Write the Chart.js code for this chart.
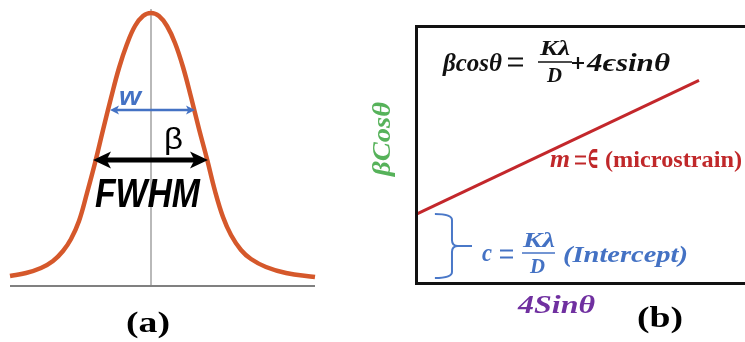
<!DOCTYPE html>
<html>
<head>
<meta charset="utf-8">
<script src="https://cdn.jsdelivr.net/npm/chart.js"></script>
<style>
    body { margin: 0; background: #fff; width: 745px; height: 342px; overflow: hidden; position: relative; }
    #peakChart { position: absolute; left: 0; top: 0; }
    #whChart { position: absolute; left: 330px; top: 0; }
</style>
</head>
<body>
<canvas id="peakChart" width="330" height="342"></canvas>
<canvas id="whChart" width="415" height="342"></canvas>
<script>
// (a) diffraction peak: offset from the peak centre vs. counts
const peakPos = [-141, -125, -110, -98, -88, -80, -72, -64, -56, -48, -40, -32, -24, -16, -8, 0,
    8, 16, 24, 32, 40, 48, 56, 64, 72, 80, 90, 100, 115, 135, 164]
const peakCounts = [9, 12, 17, 24, 34, 46, 64, 92, 122, 155, 187, 217, 241, 259, 269, 272,
    269, 259, 242, 218, 188, 156, 126, 94, 68, 50, 35, 26, 18, 12, 8]
const wSpan = [-41, 44]
const wLevel = 175
const fwhmSpan = [-58, 57]
const fwhmLevel = 125

// (b) Williamson-Hall line
const sinAxis = [0, 0.86]
const cosAxis = [0.27, 0.79]

const serifBI = (px) => `italic bold ${px}px "Liberation Serif", serif`
const serifB = (px) => `bold ${px}px "Liberation Serif", serif`
const sansBI = (px) => `italic bold ${px}px "Liberation Sans", sans-serif`

// draws text squeezed/stretched to a given width
function fitText(ctx, text, left, base, width, font, color) {
    ctx.save()
    ctx.font = font
    ctx.fillStyle = color
    ctx.textAlign = 'left'
    ctx.textBaseline = 'alphabetic'
    const w = ctx.measureText(text).width
    ctx.translate(left, base)
    ctx.scale(width / w, 1)
    ctx.fillText(text, 0, 0)
    ctx.restore()
}

// math-style bar glyphs (= and +) drawn as strokes so they stay heavy
function equals(ctx, x1, x2, mid, color) {
    ctx.save()
    ctx.strokeStyle = color
    ctx.lineWidth = 2.2
    ctx.beginPath()
    ctx.moveTo(x1, mid - 3.5)
    ctx.lineTo(x2, mid - 3.5)
    ctx.moveTo(x1, mid + 3.5)
    ctx.lineTo(x2, mid + 3.5)
    ctx.stroke()
    ctx.restore()
}

function plus(ctx, x1, x2, mid, color) {
    const c = (x1 + x2) / 2
    const h = (x2 - x1) / 2
    ctx.save()
    ctx.strokeStyle = color
    ctx.lineWidth = 2.2
    ctx.beginPath()
    ctx.moveTo(x1, mid)
    ctx.lineTo(x2, mid)
    ctx.moveTo(c, mid - h)
    ctx.lineTo(c, mid + h)
    ctx.stroke()
    ctx.restore()
}

function arrow(ctx, x1, x2, yy, color, lw, headLen, headHalf) {
    ctx.save()
    ctx.strokeStyle = color
    ctx.fillStyle = color
    ctx.lineWidth = lw
    ctx.beginPath()
    ctx.moveTo(x1 + headLen * 0.7, yy)
    ctx.lineTo(x2 - headLen * 0.7, yy)
    ctx.stroke()
    ctx.beginPath()
    ctx.moveTo(x1, yy)
    ctx.lineTo(x1 + headLen, yy - headHalf)
    ctx.lineTo(x1 + headLen * 0.75, yy)
    ctx.lineTo(x1 + headLen, yy + headHalf)
    ctx.closePath()
    ctx.fill()
    ctx.beginPath()
    ctx.moveTo(x2, yy)
    ctx.lineTo(x2 - headLen, yy - headHalf)
    ctx.lineTo(x2 - headLen * 0.75, yy)
    ctx.lineTo(x2 - headLen, yy + headHalf)
    ctx.closePath()
    ctx.fill()
    ctx.restore()
}

function fraction(ctx, num, den, numBox, denBox, bar, font, color) {
    fitText(ctx, num, numBox[0], numBox[2], numBox[1] - numBox[0], font, color)
    fitText(ctx, den, denBox[0], denBox[2], denBox[1] - denBox[0], font, color)
    ctx.save()
    ctx.strokeStyle = color
    ctx.lineWidth = 1.3
    ctx.beginPath()
    ctx.moveTo(bar[0], bar[2])
    ctx.lineTo(bar[1], bar[2])
    ctx.stroke()
    ctx.restore()
}

const peakMarks = {
    id: 'peakMarks',
    beforeDatasetsDraw(chart) {
        const { ctx, chartArea, scales: { x, y } } = chart
        const y0 = y.getPixelForValue(0)
        const xc = x.getPixelForValue(0)
        ctx.save()
        ctx.strokeStyle = '#808080'
        ctx.lineWidth = 2
        ctx.beginPath()
        ctx.moveTo(chartArea.left, y0 + 1)
        ctx.lineTo(chartArea.right, y0 + 1)
        ctx.stroke()
        ctx.strokeStyle = '#8a8a8a'
        ctx.lineWidth = 1.2
        ctx.beginPath()
        ctx.moveTo(xc, y0)
        ctx.lineTo(xc, y.getPixelForValue(276))
        ctx.stroke()
        ctx.restore()
    },
    afterDatasetsDraw(chart) {
        const { ctx, scales: { x, y } } = chart
        arrow(ctx, x.getPixelForValue(wSpan[0]), x.getPixelForValue(wSpan[1]), y.getPixelForValue(wLevel),
            '#4472c4', 2.5, 9, 4.5)
        arrow(ctx, x.getPixelForValue(fwhmSpan[0]), x.getPixelForValue(fwhmSpan[1]), y.getPixelForValue(fwhmLevel),
            '#000', 5, 18, 8.5)
        fitText(ctx, 'w', 119, 105, 22, sansBI(25), '#4472c4')
        fitText(ctx, 'β', 164, 149, 19, `29px "Liberation Sans", sans-serif`, '#000')
        fitText(ctx, 'FWHM', 95, 207, 105, sansBI(40), '#000')
        fitText(ctx, '(a)', 126, 332, 44, serifB(29), '#000')
    }
}

new Chart(document.getElementById('peakChart'), {
    type: 'line',
    data: {
        datasets: [{
            data: peakPos.map((p, i) => ({ x: p, y: peakCounts[i] })),
            borderColor: '#d5582b',
            borderWidth: 4.5,
            pointRadius: 0,
            tension: 0.4,
            fill: false,
            clip: false
        }]
    },
    options: {
        responsive: false,
        animation: false,
        events: [],
        layout: { padding: { left: 10, right: 15, top: 0, bottom: 57 } },
        plugins: { legend: { display: false }, tooltip: { enabled: false } },
        scales: {
            x: { type: 'linear', min: -141, max: 164, display: false },
            y: { min: 0, max: 285, display: false }
        }
    },
    plugins: [peakMarks]
})

const whMarks = {
    id: 'whMarks',
    afterDatasetsDraw(chart) {
        const { ctx, chartArea, scales: { x, y } } = chart
        ctx.save()

        // frame: left, top and bottom edges
        ctx.strokeStyle = '#111'
        ctx.lineWidth = 3
        ctx.beginPath()
        ctx.moveTo(chart.width + 5, chartArea.top)
        ctx.lineTo(chartArea.left, chartArea.top)
        ctx.lineTo(chartArea.left, chartArea.bottom)
        ctx.lineTo(chart.width + 5, chartArea.bottom)
        ctx.stroke()

        // brace marking the intercept
        const bx0 = x.getPixelForValue(0.056)
        const bxm = x.getPixelForValue(0.108)
        const bxt = x.getPixelForValue(0.169)
        const byTop = y.getPixelForValue(cosAxis[0])
        const byBot = y.getPixelForValue(0.021)
        const byTip = (byTop + byBot) / 2
        const r = 6
        ctx.strokeStyle = '#4a78c8'
        ctx.lineWidth = 2
        ctx.beginPath()
        ctx.moveTo(bx0, byTop)
        ctx.quadraticCurveTo(bxm, byTop, bxm, byTop + r)
        ctx.lineTo(bxm, byTip - r)
        ctx.quadraticCurveTo(bxm, byTip, bxm + r, byTip)
        ctx.lineTo(bxt, byTip)
        ctx.moveTo(bxm + r, byTip)
        ctx.quadraticCurveTo(bxm, byTip, bxm, byTip + r)
        ctx.lineTo(bxm, byBot - r)
        ctx.quadraticCurveTo(bxm, byBot, bx0, byBot)
        ctx.stroke()
        ctx.restore()

        // equation
        const black = '#111'
        fitText(ctx, 'βcosθ', 113, 71, 59, serifBI(26), black)
        equals(ctx, 178, 193, 62, black)
        fraction(ctx, 'Kλ', 'D', [210, 240, 55], [217, 232, 82], [208, 242, 62], serifBI(21), black)
        plus(ctx, 242, 254, 63, black)
        fitText(ctx, '4ϵsinθ', 257, 71, 83, serifBI(26), black)

        // slope label
        const red = '#c0282a'
        fitText(ctx, 'm', 220, 167, 20, serifBI(25), red)
        equals(ctx, 245, 256, 160, red)
        fitText(ctx, '∈', 257, 168, 12, `bold 30px "DejaVu Serif", serif`, red)
        fitText(ctx, '(microstrain)', 275, 167, 137, serifB(24), red)

        // intercept label
        const blue = '#4472c4'
        fitText(ctx, 'c', 152, 261, 10, serifBI(25), blue)
        equals(ctx, 170, 183, 254, blue)
        fraction(ctx, 'Kλ', 'D', [193, 225, 247], [200, 215, 273], [192, 225, 253], serifBI(21), blue)
        fitText(ctx, '(Intercept)', 233, 262, 125, serifBI(24), blue)

        // axis titles
        fitText(ctx, '4Sinθ', 188, 313, 77, serifBI(25), '#7030a0')
        ctx.save()
        ctx.translate(53, 139)
        ctx.rotate(-Math.PI / 2)
        fitText(ctx, 'βCosθ', -37, 7, 74, serifBI(25), '#56b25a')
        ctx.restore()

        fitText(ctx, '(b)', 307, 327, 46, serifB(29), '#000')
    }
}

new Chart(document.getElementById('whChart'), {
    type: 'line',
    data: {
        datasets: [{
            data: sinAxis.map((s, i) => ({ x: s, y: cosAxis[i] })),
            borderColor: '#c3272b',
            borderWidth: 3,
            pointRadius: 0,
            fill: false,
            clip: false
        }]
    },
    options: {
        responsive: false,
        animation: false,
        events: [],
        layout: { padding: { left: 86.5, right: 0, top: 26.5, bottom: 58.5 } },
        plugins: { legend: { display: false }, tooltip: { enabled: false } },
        scales: {
            x: { type: 'linear', min: 0, max: 1, display: false },
            y: { min: 0, max: 1, display: false }
        }
    },
    plugins: [whMarks]
})
</script>
</body>
</html>
